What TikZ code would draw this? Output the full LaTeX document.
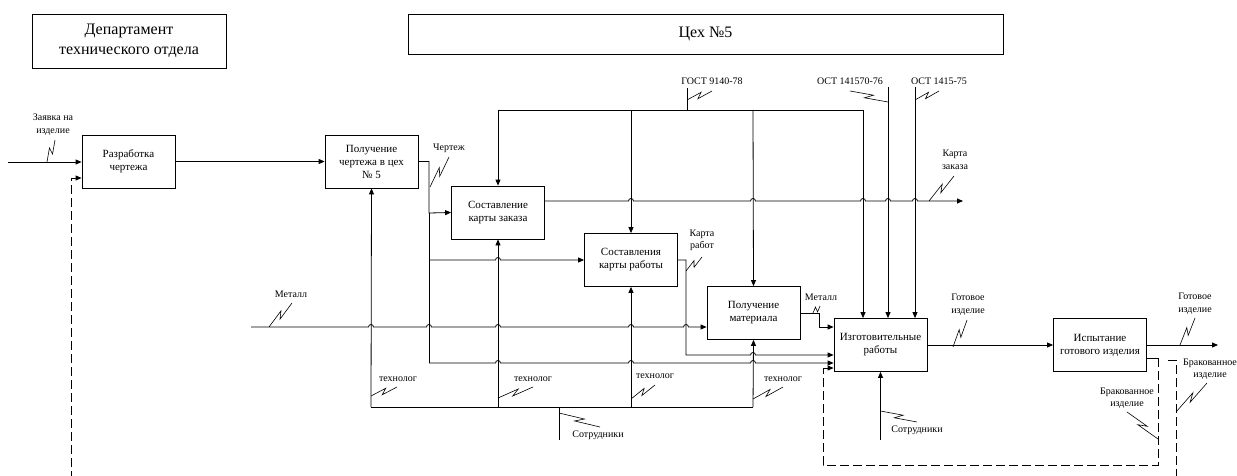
\documentclass[tikz,border=0pt]{standalone}
\usepackage{fontspec}
\setmainfont{Liberation Serif}
\usetikzlibrary{arrows.meta,calc,positioning}

% squiggle from a line to its label
\newcommand{\zig}[2]{\draw[ln,line width=0.6pt] (#1) -- ($(#1)!0.6!(#2)!2.5pt!90:(#2)$) -- ($(#1)!0.4!(#2)!2.5pt!-90:(#2)$) -- (#2);}

\begin{document}
\begin{tikzpicture}[x=1pt,y=-1pt,
    blk/.style={draw,line width=0.8pt,minimum width=93pt,minimum height=53pt,align=center,inner sep=1pt,font=\fontsize{11}{13}\selectfont},
    hdr/.style={draw,line width=0.8pt,align=center,font=\fontsize{16}{20}\selectfont},
    lbl/.style={align=center,inner sep=0pt,font=\fontsize{10}{12.5}\selectfont},
    ln/.style={line width=0.8pt},
    arr/.style={ln,-{Triangle[length=6pt,width=5pt]}},
    fb/.style={ln,dash pattern=on 9pt off 4pt}]
    \useasboundingbox (0,0) rectangle (1237,476);

    %Kopf
    \node[hdr,minimum width=194pt,minimum height=54pt] (dep) at (129,41) {Департамент\\технического отдела};
    \node[hdr,minimum width=595pt,minimum height=40pt] (ceh) at (705.5,34) {Цех №5};

    %Bloecke
    \node[blk] (razr) at (128.5,161.5) {Разработка\\чертежа};
    \node[blk] (poluch) at (371.5,161.5) {Получение\\чертежа в цех\\№ 5};
    \node[blk] (zakaz) at (498,212.5) {Составление\\карты заказа};
    \node[blk] (rabot) at (631,260) {Составления\\карты работы};
    \node[blk] (mater) at (753.5,313) {Получение\\материала};
    \node[blk] (izgot) at (880.5,345) {Изготовительные\\работы};
    \node[blk] (ispyt) at (1100,345) {Испытание\\готового изделия};

    %Beschriftungen
    \node[lbl] (lzay) at (53,124.5) {Заявка на\\изделие};
    \node[lbl] (lmet) at (291,294) {Металл};
    \node[lbl] (lcher) at (449,148) {Чертеж};
    \node[lbl] (lgost) at (712,81) {ГОСТ 9140-78};
    \node[lbl] (lost) at (850,81) {ОСТ 141570-76};
    \node[lbl] (lostb) at (939,81) {ОСТ 1415-75};
    \node[lbl] (lkz) at (955,160) {Карта\\заказа};
    \node[lbl] (lkr) at (702,240.5) {Карта\\работ};
    \node[lbl] (lmetb) at (821,297) {Металл};
    \node[lbl] (lgot) at (968,304.5) {Готовое\\изделие};
    \node[lbl] (lgotb) at (1195,303.5) {Готовое\\изделие};
    \node[lbl] (lbrak) at (1127,398) {Бракованное\\изделие};
    \node[lbl] (lbrakb) at (1210,369) {Бракованное\\изделие};
    \node[lbl] (ltech) at (398,379) {технолог};
    \node[lbl] (ltechb) at (533,379) {технолог};
    \node[lbl] (ltechc) at (655,376) {технолог};
    \node[lbl] (ltechd) at (783,379) {технолог};
    \node[lbl] (lsot) at (598,435) {Сотрудники};
    \node[lbl] (lsotb) at (917,430) {Сотрудники};

    %Eingaenge
    \draw[arr] (8,162) -- (razr.west |- 0,162);
    \draw[arr] (razr.east) -- (poluch.west);
    \draw[arr] (poluch.east) -| (429,213) -- (zakaz.west);
    \draw[ln] (429,213) -- (429,363);
    \draw[arr] (429,260) -- (495.5,260) arc[start angle=180,end angle=360,radius=2.5] -- (rabot.west);
    \draw[arr] (429,363) \foreach \h in {498,631,753}{ -- (\h-2.5,363) arc[start angle=180,end angle=360,radius=2.5]} -- (izgot.west |- 0,363);
    \draw[arr] (251,327) \foreach \h in {371,429,498,631,686}{ -- (\h-2.5,327) arc[start angle=180,end angle=360,radius=2.5]} -- (mater.west |- 0,327);
    \draw[arr] (mater.east) -- (819,313) -- (819,327) -- (izgot.west |- 0,327);
    \draw[arr] (rabot.east) -- (686,260) -- (686,355) -- (750.5,355) arc[start angle=180,end angle=360,radius=2.5] -- (izgot.west |- 0,355);
    \draw[arr] (zakaz.east |- 0,201) \foreach \h in {631,753,863,888,915}{ -- (\h-2.5,201) arc[start angle=180,end angle=360,radius=2.5]} -- (963,201);

    %Steuerung
    \draw[ln] (498,110) -- (863,110);
    \draw[ln] (687,88) -- (687,110);
    \draw[arr] (498,110) -- (zakaz.north);
    \draw[arr] (631,110) -- (rabot.north);
    \draw[arr] (753,110) -- (mater.north);
    \draw[arr] (863,110) -- (izgot.north -| 863,0);
    \draw[arr] (888,87) -- (izgot.north -| 888,0);
    \draw[arr] (915,87) -- (izgot.north -| 915,0);

    %Mechanismen
    \draw[ln] (371,407) -- (753,407);
    \draw[ln] (559,440) -- (559,407);
    \draw[arr] (371,407) -- (poluch.south);
    \draw[arr] (498,407) -- (zakaz.south);
    \draw[arr] (631,407) -- (rabot.south);
    \draw[arr] (753,407) -- (mater.south);
    \draw[arr] (880.5,440) -- (izgot.south);

    %Ausgaenge
    \draw[arr] (izgot.east) -- (ispyt.west);
    \draw[arr] (ispyt.east) -- (1218,345);
    \draw[ln] (ispyt.east |- 0,358) -- (1158,358);
    \draw[fb] (1158,358) -- (1158,465) -- (823,465) -- (823,368);
    \draw[fb,-{Triangle[length=6pt,width=5pt]}] (823,368) -- (izgot.west |- 0,368);
    \draw[fb] (1168,360) -- (1176,360) -- (1176,480);
    \draw[fb] (71,480) -- (71,178);
    \draw[fb,-{Triangle[length=6pt,width=5pt]}] (71,178) -- (razr.west |- 0,178);

    %Zickzack
    \zig{47,162}{55,140}
    \zig{269,327}{292,303}
    \zig{430,187}{449,157}
    \zig{687,100}{712,91}
    \zig{888,102}{850,91}
    \zig{915,100}{939,91}
    \zig{929,201}{954,176}
    \zig{686,271}{702,257}
    \zig{813,313}{820,306}
    \zig{953,347}{967,320}
    \zig{1180,345}{1195,318}
    \zig{1158,439}{1127,412}
    \zig{1176,412}{1207,383}
    \zig{371,396}{397,387}
    \zig{498,398}{533,387}
    \zig{631,399}{655,385}
    \zig{753,399}{783,387}
    \zig{559,413}{600,427}
    \zig{880.5,411}{917,422}
\end{tikzpicture}
\end{document}
